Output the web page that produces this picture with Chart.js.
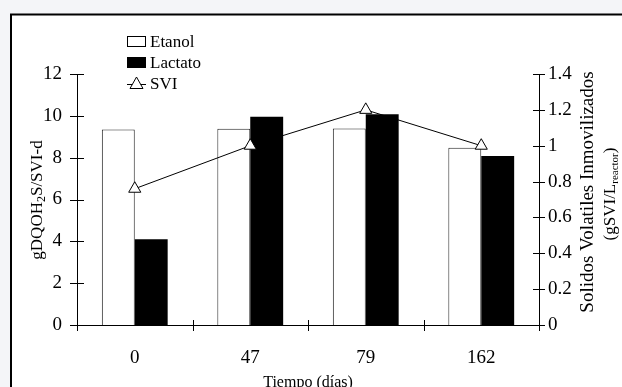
<!DOCTYPE html>
<html>
<head>
<meta charset="utf-8">
<script src="https://cdn.jsdelivr.net/npm/chart.js@4.4.0/dist/chart.umd.min.js"></script>
<style>
  html, body { margin: 0; padding: 0; background: #f4f5f8; }
  #wrap { width: 622px; height: 387px; }
</style>
</head>
<body>
<div id="wrap"><canvas id="chart" width="622" height="387"></canvas></div>
<script>
// data
const dias = ["0", "47", "79", "162"];
const etanol = [9.35, 9.38, 9.4, 8.47];
const lactato = [4.1, 9.96, 10.07, 8.08];
const svi = [0.76, 1.0, 1.2, 1.0];
const leftTicks = [0, 2, 4, 6, 8, 10, 12];
const rightTicks = [0, 0.2, 0.4, 0.6, 0.8, 1, 1.2, 1.4];

const SERIF = "'Liberation Serif', 'Times New Roman', serif";

// draws pieces of text (with sub-scripts) centred on 0 in a rotated frame
function drawParts(ctx, parts) {
  let w = 0;
  parts.forEach(p => { ctx.font = p[1] + "px " + SERIF; w += ctx.measureText(p[0]).width; });
  let x = -w / 2;
  parts.forEach(p => {
    ctx.font = p[1] + "px " + SERIF;
    ctx.fillText(p[0], x, p[2]);
    x += ctx.measureText(p[0]).width;
  });
}

// frame + crossing tick marks + titles + legend
const decor = {
  id: "decor",
  beforeDraw(chart) {
    const ctx = chart.ctx;
    ctx.save();
    ctx.fillStyle = "#ffffff";
    ctx.fillRect(11, 14, 700, 400);
    ctx.strokeStyle = "#000";
    ctx.lineWidth = 2;
    ctx.strokeRect(11, 14.5, 700, 400);
    ctx.restore();
  },
  afterDraw(chart) {
    const ctx = chart.ctx;
    const a = chart.chartArea;
    const y = chart.scales.y, y1 = chart.scales.y1;
    ctx.save();
    ctx.strokeStyle = "#000";
    ctx.lineWidth = 1;
    ctx.beginPath();
    leftTicks.forEach(v => {
      const p = Math.round(y.getPixelForValue(v)) + 0.5;
      ctx.moveTo(a.left - 7, p); ctx.lineTo(a.left + 7, p);
    });
    rightTicks.forEach(v => {
      const p = Math.round(y1.getPixelForValue(v)) + 0.5;
      ctx.moveTo(a.right - 6, p); ctx.lineTo(a.right + 6, p);
    });
    const n = dias.length;
    for (let i = 0; i <= n; i++) {
      const px = Math.round(a.left + i * (a.right - a.left) / n) + 0.5;
      ctx.moveTo(px, a.bottom - 5); ctx.lineTo(px, a.bottom + 6);
    }
    ctx.stroke();

    ctx.fillStyle = "#000";
    ctx.textBaseline = "alphabetic";

    // left title
    ctx.save();
    ctx.translate(42, 200);
    ctx.rotate(-Math.PI / 2);
    drawParts(ctx, [["gDQOH", 17, 0], ["2", 12, 3], ["S/SVI-d", 17, 0]]);
    ctx.restore();

    // right title, two lines
    ctx.save();
    ctx.translate(593, 192);
    ctx.rotate(-Math.PI / 2);
    drawParts(ctx, [["Solidos Volatiles Inmovilizados", 19, 0]]);
    ctx.restore();

    ctx.save();
    ctx.translate(615, 194);
    ctx.rotate(-Math.PI / 2);
    drawParts(ctx, [["(gSVI/L", 17, 0], ["reactor", 11, 3], [")", 17, 0]]);
    ctx.restore();

    // x title
    ctx.font = "16px " + SERIF;
    ctx.textAlign = "center";
    ctx.fillText("Tiempo (días)", 308, 387);

    // legend
    ctx.textAlign = "left";
    ctx.font = "17px " + SERIF;
    ctx.lineWidth = 1;
    ctx.fillStyle = "#fff";
    ctx.fillRect(127.5, 36.5, 18, 10);
    ctx.strokeRect(127.5, 36.5, 18, 10);
    ctx.fillStyle = "#000";
    ctx.fillRect(127, 57, 19, 11);
    ctx.fillText("Etanol", 150, 47);
    ctx.fillText("Lactato", 150, 68);
    ctx.beginPath();
    ctx.moveTo(127, 84.5); ctx.lineTo(146, 84.5);
    ctx.stroke();
    ctx.beginPath();
    ctx.moveTo(136.5, 77); ctx.lineTo(143, 88.5); ctx.lineTo(130, 88.5); ctx.closePath();
    ctx.fillStyle = "#fff";
    ctx.fill();
    ctx.stroke();
    ctx.fillStyle = "#000";
    ctx.fillText("SVI", 150, 89);
    ctx.restore();
  }
};

new Chart(document.getElementById("chart"), {
  data: {
    labels: dias,
    datasets: [
      {
        type: "line",
        label: "SVI",
        data: svi,
        yAxisID: "y1",
        borderColor: "#000",
        borderWidth: 1,
        backgroundColor: "#fff",
        pointStyle: "triangle",
        pointRadius: 7,
        pointBorderWidth: 1,
        pointBorderColor: "#000",
        pointBackgroundColor: "#fff",
        tension: 0,
        order: 0
      },
      {
        type: "bar",
        label: "Etanol",
        data: etanol,
        yAxisID: "y",
        backgroundColor: "#fff",
        borderColor: "#222",
        borderWidth: 1,
        categoryPercentage: 0.57,
        barPercentage: 1.0,
        order: 1
      },
      {
        type: "bar",
        label: "Lactato",
        data: lactato,
        yAxisID: "y",
        backgroundColor: "#000",
        borderColor: "#000",
        borderWidth: 0,
        categoryPercentage: 0.57,
        barPercentage: 1.0,
        order: 1
      }
    ]
  },
  options: {
    responsive: false,
    animation: false,
    layout: { padding: { top: 74, left: 0, right: 0, bottom: 0 } },
    plugins: { legend: { display: false }, tooltip: { enabled: false } },
    scales: {
      x: {
        grid: { display: false, drawTicks: false },
        border: { display: true, color: "#000", width: 1 },
        ticks: { color: "#000", font: { family: SERIF, size: 19 }, padding: 22 },
        afterFit: s => { s.height = 62; }
      },
      y: {
        position: "left",
        min: 0, max: 12,
        grid: { display: false, drawTicks: false },
        border: { display: true, color: "#000", width: 1 },
        afterBuildTicks: s => { s.ticks = leftTicks.map(v => ({ value: v })); },
        ticks: { color: "#000", font: { family: SERIF, size: 19 }, padding: 15 },
        afterFit: s => { s.width = 77; }
      },
      y1: {
        position: "right",
        min: 0, max: 1.4,
        grid: { display: false, drawTicks: false },
        border: { display: true, color: "#000", width: 1 },
        afterBuildTicks: s => { s.ticks = rightTicks.map(v => ({ value: v })); },
        ticks: { color: "#000", font: { family: SERIF, size: 19 }, padding: 9, callback: v => String(v) },
        afterFit: s => { s.width = 83; }
      }
    }
  },
  plugins: [decor]
});
</script>
</body>
</html>
